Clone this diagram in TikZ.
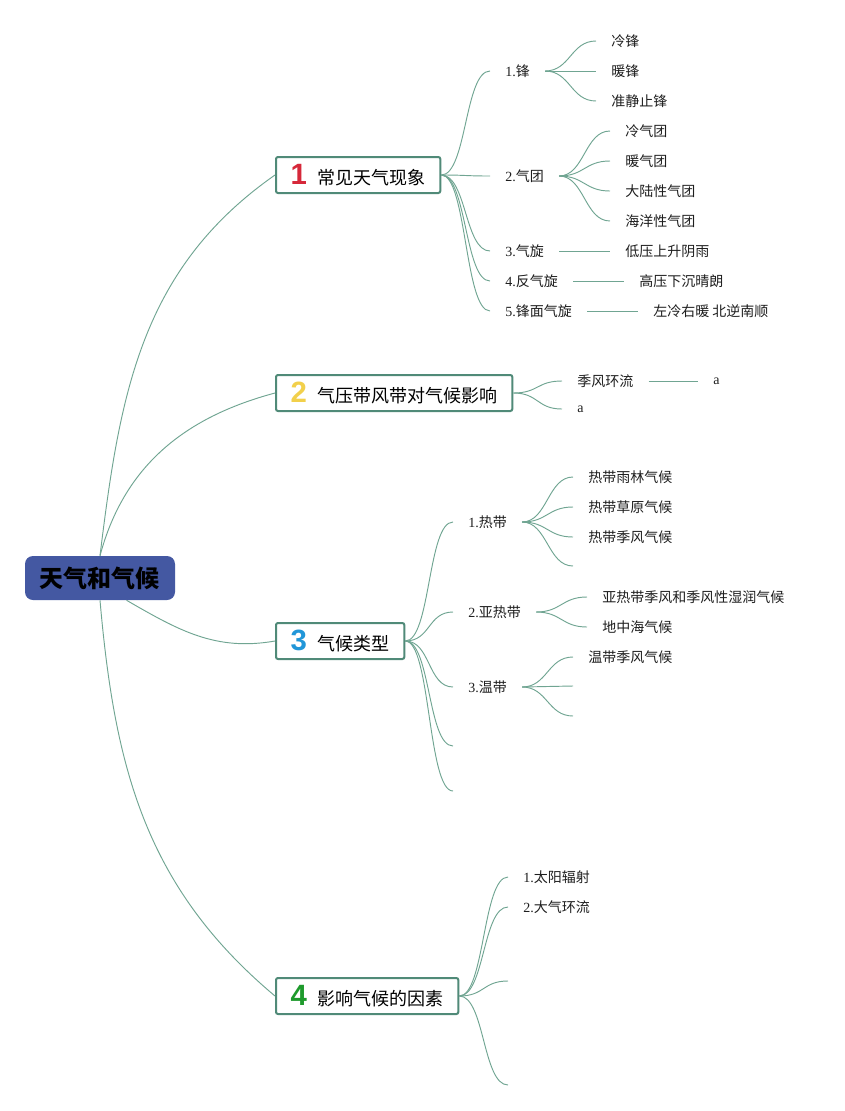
\documentclass[tikz,border=0pt]{standalone}
\usepackage{fontspec}
\setmainfont{Liberation Serif}
\newfontfamily\cjk{Noto Sans CJK SC}
\newfontfamily\numfont{Liberation Sans}
\newcommand{\zh}[1]{{\cjk #1}}
\newcommand{\bignum}[2]{{\color{#1}\numfont\bfseries\fontsize{22}{22}\selectfont #2}\hspace{8pt}}
\definecolor{rootblue}{RGB}{68,88,162}
\definecolor{boxgreen}{RGB}{80,138,120}
\definecolor{linkgreen}{RGB}{112,165,146}
\definecolor{leafgray}{RGB}{30,30,30}
\definecolor{numred}{RGB}{214,40,58}
\definecolor{numyellow}{RGB}{242,208,75}
\definecolor{numblue}{RGB}{33,150,216}
\definecolor{numgreen}{RGB}{30,154,44}

\begin{document}
\begin{tikzpicture}[x=0.75pt, y=-0.75pt,
    root/.style={rectangle, rounded corners=6pt, fill=rootblue, minimum width=112.5pt, minimum height=33pt, text=black, font=\cjk\bfseries\fontsize{18}{18}\selectfont},
    topic/.style={rectangle, draw=boxgreen, line width=1.5pt, rounded corners=1.5pt, fill=white, anchor=west, minimum height=27pt, inner xsep=11pt, font=\cjk\fontsize{13.5}{13.5}\selectfont},
    leaf/.style={anchor=west, inner xsep=11.25pt, inner ysep=2pt, text=leafgray, font=\fontsize{10.5}{10.5}\selectfont},
    link/.style={draw=linkgreen, line width=0.7pt},
    branch/.style={link, out=0, in=180, distance=19pt}
]
\useasboundingbox[fill=white] (0,0) rectangle (844,1111);

\node[root] (root) at (100,578) {天气和气候};

\node[topic] (b1) at (275,175) {\bignum{numred}{1}常见天气现象};
\node[topic] (b2) at (275,393) {\bignum{numyellow}{2}气压带风带对气候影响};
\node[topic] (b3) at (275,641) {\bignum{numblue}{3}气候类型};
\node[topic] (b4) at (275,996) {\bignum{numgreen}{4}影响气候的因素};

\draw[link] (root.north) to[out=83, in=215] (b1.west);
\draw[link] (root.north) to[out=75, in=195] (b2.west);
\draw[link] (root.-40) to[out=-30, in=190] (b3.west);
\draw[link] (root.south) to[out=-85, in=140] (b4.west);

% 常见天气现象
\node[leaf] (f1) at (490,71) {1.\zh{锋}};
\node[leaf] (f2) at (490,176) {2.\zh{气团}};
\node[leaf] (f3) at (490,251) {3.\zh{气旋}};
\node[leaf] (f4) at (490,281) {4.\zh{反气旋}};
\node[leaf] (f5) at (490,311) {5.\zh{锋面气旋}};
\foreach \n in {f1,f2,f3,f4,f5}
    \draw[branch] (b1.east) to (\n.west);

\node[leaf] (f11) at (596,41) {\zh{冷锋}};
\node[leaf] (f12) at (596,71) {\zh{暖锋}};
\node[leaf] (f13) at (596,101) {\zh{准静止锋}};
\foreach \n in {f11,f12,f13}
    \draw[branch] (f1.east) to (\n.west);

\node[leaf] (f21) at (610,131) {\zh{冷气团}};
\node[leaf] (f22) at (610,161) {\zh{暖气团}};
\node[leaf] (f23) at (610,191) {\zh{大陆性气团}};
\node[leaf] (f24) at (610,221) {\zh{海洋性气团}};
\foreach \n in {f21,f22,f23,f24}
    \draw[branch] (f2.east) to (\n.west);

\node[leaf] (f31) at (610,251) {\zh{低压上升阴雨}};
\node[leaf] (f41) at (624,281) {\zh{高压下沉晴朗}};
\node[leaf] (f51) at (638,311) {\zh{左冷右暖 北逆南顺}};
\draw[branch] (f3.east) to (f31.west);
\draw[branch] (f4.east) to (f41.west);
\draw[branch] (f5.east) to (f51.west);

% 气压带风带对气候影响
\node[leaf] (m1) at (562,381) {\zh{季风环流}};
\node[leaf] (m2) at (562,409) {a};
\node[leaf] (m11) at (698,381) {a};
\draw[branch] (b2.east) to (m1.west);
\draw[branch] (b2.east) to (m2.west);
\draw[branch] (m1.east) to (m11.west);

% 气候类型
\node[leaf] (t1) at (453,522) {1.\zh{热带}};
\node[leaf] (t2) at (453,612) {2.\zh{亚热带}};
\node[leaf] (t3) at (453,687) {3.\zh{温带}};
\coordinate (t4) at (453,746);
\coordinate (t5) at (453,791);
\foreach \n in {t1.west,t2.west,t3.west,t4,t5}
    \draw[branch] (b3.east) to (\n);

\node[leaf] (t11) at (573,477) {\zh{热带雨林气候}};
\node[leaf] (t12) at (573,507) {\zh{热带草原气候}};
\node[leaf] (t13) at (573,537) {\zh{热带季风气候}};
\coordinate (t14) at (573,566);
\foreach \n in {t11.west,t12.west,t13.west,t14}
    \draw[branch] (t1.east) to (\n);

\node[leaf] (t21) at (587,597) {\zh{亚热带季风和季风性湿润气候}};
\node[leaf] (t22) at (587,627) {\zh{地中海气候}};
\draw[branch] (t2.east) to (t21.west);
\draw[branch] (t2.east) to (t22.west);

\node[leaf] (t31) at (573,657) {\zh{温带季风气候}};
\coordinate (t32) at (573,686);
\coordinate (t33) at (573,716);
\foreach \n in {t31.west,t32,t33}
    \draw[branch] (t3.east) to (\n);

% 影响气候的因素
\node[leaf] (y1) at (508,877) {1.\zh{太阳辐射}};
\node[leaf] (y2) at (508,907) {2.\zh{大气环流}};
\coordinate (y3) at (508,981);
\coordinate (y4) at (508,1085);
\foreach \n in {y1.west,y2.west,y3,y4}
    \draw[branch] (b4.east) to (\n);
\end{tikzpicture}
\end{document}
